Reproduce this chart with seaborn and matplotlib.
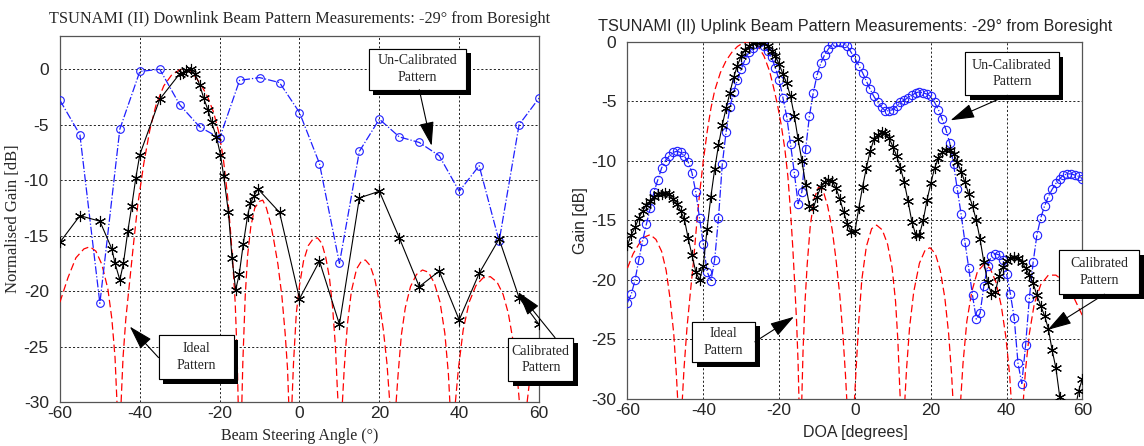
import matplotlib
matplotlib.use("Agg")
import matplotlib.pyplot as plt
import matplotlib.patheffects as pe
from matplotlib.patches import Rectangle
import seaborn as sns

# ---------------- Downlink (left panel) ----------------
dl_cal_angle = [-60, -55, -50, -47, -46.2, -45, -44.1, -43, -42, -41, -40, -35, -30, -29.2, -28.5,
                -27.3, -26.2, -25, -24, -22.9, -22, -20.8, -19.8, -19, -17.8, -16.9, -16, -15.1,
                -14.1, -13, -12.3, -11.4, -10.4, -5, 0, 5, 10, 15, 20, 25, 30, 35, 40, 45, 50, 55, 60]
dl_cal_gain = [-15.6, -13.2, -13.7, -16.2, -17.5, -19.0, -17.5, -14.6, -12.3, -9.8, -7.7, -2.7, -0.4,
               -0.3, -0.1, 0.0, -0.4, -1.4, -2.6, -3.7, -4.8, -6.1, -7.7, -9.6, -12.9, -17.0, -19.9,
               -18.5, -15.8, -13.2, -12.1, -11.4, -10.8, -12.9, -20.7, -17.3, -23.0, -11.6, -11.0,
               -15.2, -19.6, -18.2, -22.6, -18.4, -15.3, -20.6, -23.0]

dl_uncal_angle = [-60, -55, -50, -45, -40, -35, -30, -25, -20, -15, -10, -5, 0, 5, 10, 15, 20, 25,
                  30, 35, 40, 45, 50, 55, 60]
dl_uncal_gain = [-2.8, -5.9, -21.1, -5.4, -0.2, 0.0, -3.2, -5.2, -6.2, -1.0, -0.75, -1.2, -3.9, -8.5,
                 -17.5, -7.4, -4.5, -6.1, -6.6, -7.8, -11.0, -8.7, -15.5, -5.0, -2.6]

dl_ideal_angle = [-60, -58, -56, -54, -52.5, -51, -49.5, -48, -47, -46.2, -45.6, -45.2,
                  -44.8, -44.2, -43.5, -42.5, -41.5, -40.5, -39, -37.5, -36, -34, -32, -30, -29,
                  -27.5, -26, -24.5, -23, -21.5, -20, -19, -18, -17.3, -16.7, -16.1, -15.6, -15.3,
                  -14.9, -14.5, -14.2, -13.6, -13, -12.2, -11.2, -10, -9.2, -8.3, -7.3, -6.4, -5.4,
                  -4.4, -3.6, -3.0, -2.6, -2.3, -2.0, -1.5, -0.8, 0, 1, 2.2, 3.4, 4.5, 5.6, 6.6,
                  7.5, 8.3, 9.0, 9.5, 9.8, 10.2, 10.6, 11.2, 12, 13, 14.3, 15.5, 16.5, 17.7, 18.9,
                  20, 21, 21.9, 22.6, 23.0, 23.5, 24, 24.7, 25.5, 26.5, 27.8, 29.3, 30.8, 32.3,
                  33.8, 35.2, 36.4, 37.3, 37.8, 38.3, 38.8, 39.8, 41, 42.5, 44.2, 46, 47.8, 49.5,
                  51, 52.3, 53.5, 54.5, 55.3, 56, 56.7, 57.5, 58.5, 60]
dl_ideal_gain = [-21.0, -18.8, -17.0, -16.2, -16.0, -16.4, -17.6, -19.8, -22.5, -26.0, -31.0, -40.0,
                 -31.0, -26.0, -22.5, -19.0, -15.5, -12.2, -8.5, -5.5, -3.3, -1.5, -0.5, -0.05, 0.0,
                 -0.2, -0.7, -1.5, -2.5, -3.9, -6.0, -8.3, -11.5, -14.5, -17.5, -21.1, -26.0, -31.0,
                 -40.0, -31.0, -26.5, -20.5, -16.8, -14.2, -12.5, -11.9, -11.8, -12.5, -13.8, -15.5,
                 -17.6, -20.5, -23.8, -27.0, -31.0, -40.0, -31.0, -26.5, -22.0, -19.5, -17.3, -15.9,
                 -15.3, -15.2, -15.7, -17.0, -18.8, -21.5, -25.0, -29.0, -31.0, -40.0, -31.0, -27.0,
                 -23.0, -20.0, -18.0, -17.3, -17.2, -17.7, -19.0, -21.0, -23.5, -26.5, -30.0, -31.0,
                 -40.0, -31.0, -27.5, -24.0, -21.5, -19.6, -18.5, -18.1, -18.3, -19.3, -21.0, -23.8,
                 -27.5, -31.0, -40.0, -31.0, -27.0, -23.5, -21.0, -19.5, -18.8, -18.7, -19.2, -20.3,
                 -22.0, -24.5, -27.5, -31.0, -40.0, -31.0, -28.5, -26.5, -25.0]

# ---------------- Uplink (right panel) ----------------
ul_doa = list(range(-60, 61))
ul_cal_gain = [-17.1, -16.2, -15.6, -14.8, -14.2, -13.7, -13.4, -13.0, -12.8, -12.8,
               -12.7, -12.8, -13.2, -13.6, -14.2, -14.9, -16.5, -17.9, -19.3, -20.0,
               -18.8, -15.7, -13.0, -10.7, -8.7, -7.0, -5.6, -4.3, -3.0, -2.0,
               -1.2, -0.7, -0.4, -0.1, 0.0, 0.0, -0.1, -0.4, -0.8, -1.2,
               -1.9, -2.7, -3.5, -4.6, -6.2, -8.2, -10.0, -12.0, -13.8, -14.0,
               -13.0, -12.2, -11.8, -11.6, -11.7, -12.3, -13.2, -14.3, -15.3, -16.0,
               -15.9, -14.0, -12.2, -10.6, -9.2, -8.2, -7.8, -7.6, -7.7, -8.1,
               -8.8, -9.6, -10.6, -11.8, -13.4, -15.1, -16.2, -16.2, -15.0, -13.3,
               -11.9, -10.6, -9.8, -9.3, -9.1, -9.1, -9.4, -10.1, -10.9, -11.8,
               -12.8, -13.8, -15.0, -16.6, -18.5, -20.2, -21.2, -21.0, -19.7, -18.9,
               -18.4, -18.2, -18.1, -18.2, -18.5, -19.0, -19.6, -20.3, -21.3, -22.2,
               -23.0, -24.1, -25.9, -27.4, -29.8, -31.5, -32.5, -32.5, -31.0, -29.3, -28.3]
ul_uncal_gain = [-21.9, -21.2, -20.0, -18.3, -16.7, -15.3, -14.0, -12.6, -11.6, -10.6,
                 -10.0, -9.6, -9.3, -9.2, -9.3, -9.6, -10.1, -11.0, -12.6, -14.8,
                 -17.0, -19.3, -20.1, -18.3, -14.8, -10.3, -7.6, -5.5, -4.2, -3.2,
                 -2.3, -1.5, -0.9, -0.5, -0.2, 0.0, -0.4, -0.8, -1.3, -2.2,
                 -3.2, -4.7, -6.3, -8.6, -11.0, -13.6, -12.6, -9.0, -6.2, -4.3,
                 -2.8, -1.8, -1.1, -0.6, -0.2, 0.0, 0.0, -0.1, -0.4, -0.9,
                 -1.4, -2.0, -2.6, -3.3, -4.0, -4.6, -5.1, -5.5, -5.8, -5.8,
                 -5.7, -5.4, -5.1, -4.9, -4.7, -4.5, -4.3, -4.2, -4.3, -4.4,
                 -4.6, -5.1, -5.7, -6.5, -7.4, -8.5, -10.3, -12.4, -14.5, -16.8,
                 -19.0, -21.3, -23.3, -22.8, -20.5, -18.8, -18.0, -17.8, -17.9, -18.3,
                 -19.5, -21.2, -23.2, -27.0, -28.7, -25.5, -21.5, -18.5, -16.2, -14.8,
                 -13.8, -13.0, -12.4, -11.9, -11.5, -11.2, -11.1, -11.1, -11.2, -11.3, -11.5]

ul_ideal_doa = [-60, -58.5, -57, -55.5, -54, -52.5, -51, -49.8, -48.8, -47.8, -47.1, -46.6, -46.2,
                -45.7, -45.1, -44.3, -43.4, -42.6, -41.8, -41, -40, -39, -38, -37, -35.5, -34,
                -32.5, -31, -29.5, -28.5, -27, -25.5, -24, -22.5, -21.5, -20.5, -19.5, -18.5,
                -17.7, -17, -16.4, -15.9, -15.4, -15, -14.7, -14.4, -14.1, -13.7, -13.2, -12.6,
                -11.8, -10.8, -9.6, -8.4, -7.2, -6.0, -5.0, -4.0, -3.2, -2.5, -2.0, -1.1, -0.3,
                0.3, 1.0, 1.8, 3, 4.4, 5.7, 7.2, 8.6, 9.8, 10.7, 11.3, 11.8, 12.1, 12.5, 13,
                13.6, 14.4, 15.5, 17, 18.5, 19.8, 21.2, 22.5, 23.7, 24.7, 25.5, 26, 26.8, 27.7,
                28.5, 29.5, 30.8, 32.3, 34, 35.6, 37.2, 38.6, 39.8, 40.8, 41.4, 42.8, 44.2, 45,
                46, 47.3, 49, 51, 53, 55, 57, 58.5, 60]
ul_ideal_gain = [-19.0, -17.8, -17.0, -16.4, -16.2, -16.6, -17.6, -19.2, -21.5, -24.5, -28.0, -31.0,
                 -40.0, -31.0, -27.5, -24.0, -21.0, -18.5, -15.5, -12.8, -10.0, -7.6, -5.6, -4.1,
                 -2.6, -1.6, -0.9, -0.4, -0.1, 0.0, -0.1, -0.4, -1.2, -2.5, -3.8, -5.2, -6.9, -9.0,
                 -11.3, -14.2, -17.3, -20.3, -23.5, -27.0, -31.0, -40.0, -31.0, -26.0, -22.0, -18.7,
                 -15.5, -13.2, -12.2, -12.5, -13.8, -15.8, -18.3, -21.3, -24.5, -28.0, -31.0, -40.0,
                 -31.0, -27.5, -23.5, -20.0, -17.2, -15.7, -15.4, -15.8, -17.0, -19.0, -21.8, -25.0,
                 -29.0, -31.0, -40.0, -31.0, -27.5, -24.0, -21.0, -18.6, -17.5, -17.3, -17.8, -19.2,
                 -21.5, -24.5, -28.0, -31.0, -40.0, -31.0, -27.0, -23.5, -21.0, -19.3, -18.7, -19.0,
                 -20.2, -22.2, -24.8, -28.0, -31.0, -40.0, -31.0, -27.5, -24.5, -22.0, -20.4, -19.6,
                 -19.6, -20.1, -21.0, -22.0, -23.0]

sns.set_style("white")
plt.rcParams["axes.unicode_minus"] = False
plt.rcParams["font.family"] = ["Liberation Sans", "DejaVu Sans"]

SERIF = "Liberation Serif"
SANS = "Liberation Sans"


def draw_pattern(ax, ideal_x, ideal_y, uncal_x, uncal_y, cal_x, cal_y, circle_size):
    sns.lineplot(x=ideal_x, y=ideal_y, ax=ax, color="red", linestyle=(0, (6, 3)),
                 linewidth=0.9, sort=False, estimator=None, zorder=3)
    sns.lineplot(x=uncal_x, y=uncal_y, ax=ax, color="#1f1fff", linestyle="-.", linewidth=0.9,
                 marker="o", markersize=circle_size, markerfacecolor="none",
                 markeredgecolor="#1f1fff", markeredgewidth=0.8, sort=False, estimator=None, zorder=4)
    sns.lineplot(x=cal_x, y=cal_y, ax=ax, color="black", linewidth=0.8, marker=(6, 2, 0),
                 markersize=8, markeredgecolor="black", markeredgewidth=0.8, sort=False,
                 estimator=None, zorder=5)


def style_axes(ax, top):
    ax.set_xlim(-60, 60)
    ax.set_ylim(-30, top)
    ax.set_xticks([-60, -40, -20, 0, 20, 40, 60])
    ax.set_yticks([-30, -25, -20, -15, -10, -5, 0])
    ax.set_axisbelow(True)
    ax.grid(True, color="black", linestyle=(0, (2.5, 2.5)), linewidth=0.6)
    for s in ax.spines.values():
        s.set_color("#555555")
        s.set_linewidth(0.9)
    ax.tick_params(direction="in", length=3, labelsize=12.5)
    ax.tick_params(axis="y", pad=8)
    ax.tick_params(axis="x", pad=3)
    for lab in ax.get_xticklabels() + ax.get_yticklabels():
        lab.set_family(SANS)


def callout(ax, label, x0, x1, y0, y1, tail, tip):
    box = Rectangle((x0, y0), x1 - x0, y1 - y0, facecolor="white", edgecolor="black",
                    linewidth=0.8, zorder=8, clip_on=False)
    box.set_path_effects([pe.withSimplePatchShadow(offset=(3.5, -3.5), shadow_rgbFace="black",
                                                   alpha=1.0), pe.Normal()])
    ax.add_patch(box)
    ax.text((x0 + x1) / 2, (y0 + y1) / 2, label, ha="center", va="center", fontsize=10,
            family=SERIF, linespacing=1.35, zorder=9, clip_on=False)
    ax.annotate("", xy=tip, xytext=tail, zorder=9, annotation_clip=False,
                arrowprops=dict(arrowstyle="-|>,head_length=1.0,head_width=0.3", color="black",
                                lw=0.8, shrinkA=0, shrinkB=0, mutation_scale=15))


fig = plt.figure(figsize=(11.44, 4.46), dpi=100)
ax1 = fig.add_axes([0.0524, 0.0987, 0.4188, 0.8206])
ax2 = fig.add_axes([0.5485, 0.1054, 0.3977, 0.8011])

# left: downlink
draw_pattern(ax1, dl_ideal_angle, dl_ideal_gain, dl_uncal_angle, dl_uncal_gain,
             dl_cal_angle, dl_cal_gain, 5.5)
style_axes(ax1, 3)
ax1.set_title("TSUNAMI (II) Downlink Beam Pattern Measurements: -29\u00b0 from Boresight",
              family=SERIF, fontsize=11.7, pad=9)
ax1.set_xlabel("Beam Steering Angle (\u00b0)", family=SERIF, fontsize=11.5, labelpad=5)
ax1.set_ylabel("Normalised Gain [dB]", family=SERIF, fontsize=12, labelpad=2)
callout(ax1, "Un-Calibrated\nPattern", 17.3, 41.7, -1.84, 1.87, (30.0, -1.84), (33.1, -6.9))
callout(ax1, "Ideal\nPattern", -35.3, -16.5, -27.9, -24.0, (-35.3, -26.0), (-42.5, -23.2))
callout(ax1, "Calibrated\nPattern", 52.3, 68.6, -28.1, -24.2, (64.0, -24.2), (54.8, -20.1))

# right: uplink
draw_pattern(ax2, ul_ideal_doa, ul_ideal_gain, ul_doa, ul_uncal_gain, ul_doa, ul_cal_gain, 6)
style_axes(ax2, 0)
ax2.set_title("TSUNAMI (II) Uplink Beam Pattern Measurements: -29\u00b0 from Boresight",
              family=SANS, fontsize=11.7, pad=8)
ax2.set_xlabel("DOA [degrees]", family=SANS, fontsize=11.5, labelpad=5)
ax2.set_ylabel("Gain [dB]", family=SANS, fontsize=11.5, labelpad=2)
callout(ax2, "Un-Calibrated\nPattern", 29.1, 53.7, -4.5, -0.84, (40.2, -4.5), (25.2, -6.6))
callout(ax2, "Ideal\nPattern", -43.0, -26.4, -26.9, -23.5, (-26.4, -25.2), (-16.1, -23.1))
callout(ax2, "Calibrated\nPattern", 53.7, 75.0, -21.2, -17.5, (65.8, -21.2), (50.8, -24.2))

fig.savefig("out.png", dpi=100)
